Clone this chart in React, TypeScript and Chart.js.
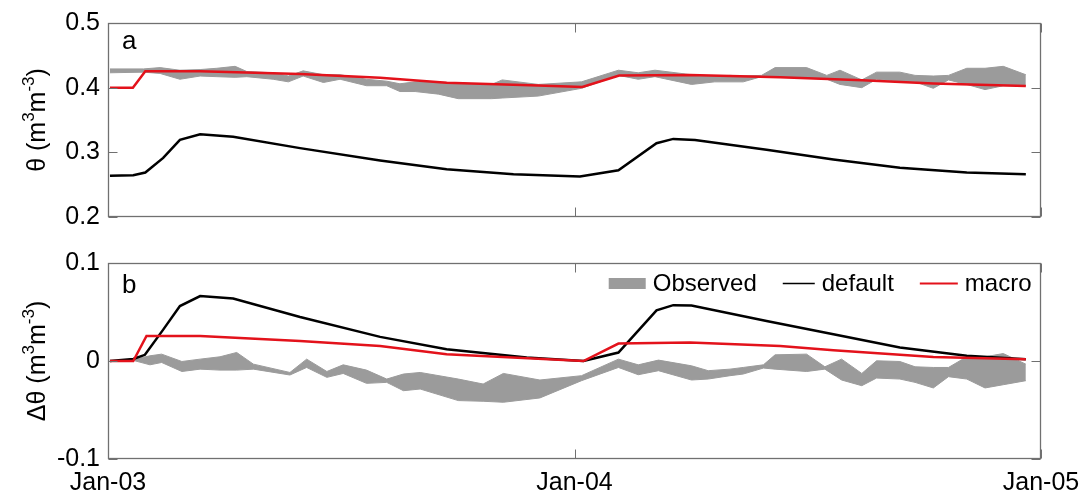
import React, { useEffect, useRef } from 'react';
import { Chart, registerables } from 'chart.js';

Chart.register(...registerables);

const FONT_FAMILY = '"Liberation Sans", Arial, Helvetica, sans-serif';
const GRAY = '#9b9b9b';
const RED = '#e3121b';
const BLACK = '#000000';
const FRAME = '#707070';
const TICK_LEN = 9;

// x axis: months since Jan-03
const X_TICK_MONTHS = [0, 12, 24];
const X_TICK_LABELS = ['Jan-03', 'Jan-04', 'Jan-05'];
const Y_TICKS_A = [0.2, 0.3, 0.4, 0.5];
const Y_TICKS_B = [-0.1, 0, 0.1];
const SERIES_LABELS = ['Observed', 'default', 'macro'];

// ---------- panel a : theta ----------
const OBS_A_MONTHS = [0.05, 0.91, 1.34, 1.85, 2.37, 2.8, 3.27, 3.57, 4.25, 4.64, 5.02, 5.54, 5.97, 6.65, 7.17, 7.51, 7.9, 8.5, 9.01, 9.87, 10.14, 11.07, 12.18, 13.13, 13.64, 14.07, 15.01, 15.61, 16.0, 16.34, 16.81, 17.16, 17.97, 18.49, 18.83, 19.39, 19.77, 20.37, 20.76, 21.23, 21.62, 22.09, 22.56, 23.03, 23.61];
const OBS_A_HIGH = [0.429, 0.429, 0.431, 0.427, 0.428, 0.43, 0.433, 0.425, 0.423, 0.418, 0.426, 0.42, 0.42, 0.413, 0.41, 0.406, 0.409, 0.409, 0.407, 0.405, 0.412, 0.405, 0.409, 0.427, 0.423, 0.427, 0.42, 0.418, 0.419, 0.418, 0.419, 0.431, 0.431, 0.419, 0.427, 0.412, 0.424, 0.424, 0.419, 0.418, 0.419, 0.43, 0.43, 0.433, 0.42];
const OBS_A_LOW = [0.423, 0.424, 0.422, 0.413, 0.418, 0.417, 0.416, 0.417, 0.413, 0.409, 0.418, 0.408, 0.413, 0.403, 0.403, 0.394, 0.394, 0.39, 0.383, 0.383, 0.384, 0.387, 0.399, 0.419, 0.413, 0.417, 0.405, 0.409, 0.409, 0.409, 0.417, 0.418, 0.415, 0.413, 0.405, 0.4, 0.413, 0.41, 0.409, 0.399, 0.412, 0.405, 0.397, 0.403, 0.403];

const DEFAULT_A_MONTHS = [0.05, 0.65, 0.96, 1.42, 1.85, 2.37, 3.22, 4.94, 7.0, 8.71, 10.43, 12.14, 13.13, 14.11, 14.54, 15.1, 16.94, 18.66, 20.37, 22.09, 23.61];
const DEFAULT_A = [0.2636, 0.2647, 0.2687, 0.2914, 0.3192, 0.3278, 0.3242, 0.3065, 0.2874, 0.2738, 0.2662, 0.2626, 0.2723, 0.3141, 0.3208, 0.3192, 0.304, 0.2889, 0.2762, 0.2687, 0.2662];

const MACRO_A_MONTHS = [0.05, 0.64, 0.96, 2.37, 4.94, 7.0, 8.71, 11.07, 12.2, 13.15, 14.97, 17.29, 19.4, 21.23, 23.61];
const MACRO_A = [0.4, 0.4, 0.4253, 0.4255, 0.421, 0.4154, 0.4075, 0.4035, 0.401, 0.4187, 0.4195, 0.416, 0.4115, 0.4065, 0.4025];

// ---------- panel b : delta theta ----------
const OBS_B_MONTHS = [0.69, 1.08, 1.38, 1.9, 2.37, 2.88, 3.31, 3.74, 4.68, 5.11, 5.63, 6.05, 6.65, 7.17, 7.6, 8.03, 9.01, 9.65, 10.17, 11.11, 12.18, 13.13, 13.64, 14.16, 15.01, 15.44, 16.0, 16.34, 16.86, 17.16, 17.97, 18.44, 18.87, 19.39, 19.77, 20.37, 20.76, 21.23, 21.62, 22.09, 22.56, 23.03, 23.61];
const OBS_B_HIGH = [0.0019, 0.0053, 0.007, -0.0005, 0.0019, 0.0043, 0.0087, -0.0032, -0.0117, 0.0019, -0.0107, -0.0039, -0.0093, -0.0184, -0.0133, -0.0117, -0.0184, -0.0235, -0.0127, -0.0194, -0.015, 0.0019, -0.0039, 0.0009, -0.0049, -0.0099, -0.0083, -0.0066, -0.0039, 0.0063, 0.007, -0.0059, 0.0019, -0.0127, 0.0002, -0.0005, -0.0059, -0.0066, -0.0066, 0.0043, 0.0043, 0.0076, -0.0032];
const OBS_B_LOW = [0.0002, -0.0039, -0.0015, -0.0107, -0.0083, -0.0093, -0.0093, -0.0083, -0.0143, -0.0066, -0.0167, -0.0127, -0.0228, -0.0218, -0.0303, -0.0286, -0.0404, -0.0411, -0.0421, -0.0377, -0.0201, -0.0066, -0.014, -0.0099, -0.0194, -0.0184, -0.015, -0.0133, -0.0072, -0.0083, -0.0107, -0.0083, -0.0194, -0.0252, -0.0174, -0.0184, -0.0218, -0.0275, -0.016, -0.0184, -0.0275, -0.0242, -0.0201];

const DEFAULT_B_MONTHS = [0.05, 0.65, 0.95, 1.42, 1.85, 2.37, 3.22, 4.94, 7.0, 8.71, 10.77, 12.23, 13.13, 14.11, 14.54, 15.01, 16.94, 18.66, 20.37, 22.09, 23.61];
const DEFAULT_B = [0, 0.002, 0.0063, 0.032, 0.0561, 0.0662, 0.0638, 0.0449, 0.0246, 0.0121, 0.0036, 0.0, 0.0086, 0.0516, 0.057, 0.0567, 0.0409, 0.0273, 0.0137, 0.0053, 0.0019];

const MACRO_B_MONTHS = [0.05, 0.65, 0.99, 2.37, 4.94, 7.0, 8.71, 12.23, 13.13, 14.97, 17.29, 18.66, 21.23, 23.61];
const MACRO_B = [0, 0, 0.0256, 0.0256, 0.0205, 0.0154, 0.007, 0, 0.0178, 0.0188, 0.0154, 0.011, 0.0042, 0.0019];

const pts = (xs: number[], ys: number[]) => xs.map((x, i) => ({ x, y: ys[i] }));
const font = (size: number) => `${size}px ${FONT_FAMILY}`;

type TitlePart = { t: string; sup?: boolean };

const decorPlugin = {
  id: 'decor',
  afterDraw(chart: any, _args: any, o: any) {
    const { ctx, chartArea: a, scales } = chart;
    const xs = scales.x;
    const ys = scales.y;
    const L = Math.round(a.left) + 0.5;
    const R = Math.round(a.right) - 0.5;
    const T = Math.round(a.top) + 0.5;
    const B = Math.round(a.bottom) - 0.5;
    ctx.save();
    // inward tick marks
    ctx.strokeStyle = FRAME;
    ctx.lineWidth = 1;
    ctx.beginPath();
    X_TICK_MONTHS.forEach((m) => {
      const px = Math.round(xs.getPixelForValue(m)) + 0.5;
      ctx.moveTo(px, B);
      ctx.lineTo(px, B - TICK_LEN);
      ctx.moveTo(px, T);
      ctx.lineTo(px, T + TICK_LEN);
    });
    (o.yTicks as number[]).forEach((v) => {
      const py = Math.round(ys.getPixelForValue(v)) + 0.5;
      ctx.moveTo(L, py);
      ctx.lineTo(L + TICK_LEN, py);
      ctx.moveTo(R, py);
      ctx.lineTo(R - TICK_LEN, py);
    });
    ctx.stroke();
    // frame
    ctx.lineWidth = 1.3;
    ctx.strokeRect(L, T, R - L, B - T);

    // panel letter
    ctx.fillStyle = '#000';
    ctx.font = font(26);
    ctx.textAlign = 'left';
    ctx.textBaseline = 'alphabetic';
    ctx.fillText(o.letter, a.left + 14, a.top + o.letterDy);

    // rotated y title with superscripts
    const parts: TitlePart[] = o.title;
    const MAIN = 25;
    const SUP = 17;
    ctx.save();
    ctx.translate(45, (a.top + a.bottom) / 2);
    ctx.rotate(-Math.PI / 2);
    let total = 0;
    parts.forEach((p) => {
      ctx.font = font(p.sup ? SUP : MAIN);
      total += ctx.measureText(p.t).width;
    });
    let cx = -total / 2;
    parts.forEach((p) => {
      ctx.font = font(p.sup ? SUP : MAIN);
      ctx.fillText(p.t, cx, p.sup ? -11 : 0);
      cx += ctx.measureText(p.t).width;
    });
    ctx.restore();

    // legend
    if (o.legend) {
      const items = [
        { kind: 'box', color: GRAY, sw: 37, lw: 0, label: SERIES_LABELS[0] },
        { kind: 'line', color: BLACK, sw: 32, lw: 1.5, label: SERIES_LABELS[1] },
        { kind: 'line', color: RED, sw: 38, lw: 2, label: SERIES_LABELS[2] },
      ];
      ctx.font = font(24);
      const GAP_IN = 7;
      const GAP_OUT = 26;
      let totalW = 0;
      items.forEach((it, i) => {
        totalW += it.sw + GAP_IN + ctx.measureText(it.label).width + (i > 0 ? GAP_OUT : 0);
      });
      let x = a.right - 9.5 - totalW;
      const yMid = a.top + 20.5;
      const yBase = a.top + 27.5;
      items.forEach((it) => {
        if (it.kind === 'box') {
          ctx.fillStyle = it.color;
          ctx.fillRect(x, yMid - 5.5, it.sw, 11);
        } else {
          ctx.strokeStyle = it.color;
          ctx.lineWidth = it.lw;
          ctx.beginPath();
          ctx.moveTo(x, yMid);
          ctx.lineTo(x + it.sw, yMid);
          ctx.stroke();
        }
        x += it.sw + GAP_IN;
        ctx.fillStyle = '#000';
        ctx.fillText(it.label, x, yBase);
        x += ctx.measureText(it.label).width + GAP_OUT;
      });
    }
    ctx.restore();
  },
};

type PanelSpec = {
  height: number;
  padding: { left: number; right: number; top: number; bottom: number };
  xAxisHeight: number;
  showXLabels: boolean;
  yMin: number;
  yMax: number;
  yTicks: number[];
  obsMonths: number[];
  obsHigh: number[];
  obsLow: number[];
  defMonths: number[];
  defVals: number[];
  macMonths: number[];
  macVals: number[];
  letter: string;
  letterDy: number;
  title: TitlePart[];
  legend: boolean;
};

function buildConfig(p: PanelSpec): any {
  const lineBase = { pointRadius: 0, pointHoverRadius: 0, tension: 0, fill: false };
  return {
    type: 'line',
    data: {
      datasets: [
        { ...lineBase, label: SERIES_LABELS[2], data: pts(p.macMonths, p.macVals), borderColor: RED, borderWidth: 2.5, order: 0 },
        { ...lineBase, label: SERIES_LABELS[1], data: pts(p.defMonths, p.defVals), borderColor: BLACK, borderWidth: 2.5, order: 1 },
        { ...lineBase, label: 'Observed upper', data: pts(p.obsMonths, p.obsHigh), borderColor: GRAY, borderWidth: 1, order: 2 },
        { ...lineBase, label: SERIES_LABELS[0], data: pts(p.obsMonths, p.obsLow), borderColor: GRAY, borderWidth: 1, backgroundColor: GRAY, fill: '-1', order: 3 },
      ],
    },
    options: {
      responsive: false,
      animation: false,
      events: [],
      layout: { padding: p.padding },
      scales: {
        x: {
          type: 'linear',
          min: 0,
          max: 24,
          afterFit: (s: any) => {
            s.height = p.xAxisHeight;
          },
          grid: { display: false, drawTicks: false },
          border: { display: false },
          ticks: {
            display: p.showXLabels,
            stepSize: 12,
            autoSkip: false,
            maxRotation: 0,
            padding: 9,
            color: '#000',
            font: { family: FONT_FAMILY, size: 25 },
            callback: (v: number) => {
              const i = X_TICK_MONTHS.indexOf(v);
              return i >= 0 ? X_TICK_LABELS[i] : '';
            },
          },
        },
        y: {
          type: 'linear',
          min: p.yMin,
          max: p.yMax,
          afterFit: (s: any) => {
            s.width = 108;
          },
          grid: { display: false, drawTicks: false },
          border: { display: false },
          ticks: {
            stepSize: 0.1,
            padding: 8,
            color: '#000',
            font: { family: FONT_FAMILY, size: 25 },
          },
        },
      },
      plugins: {
        legend: { display: false },
        tooltip: { enabled: false },
        decor: { yTicks: p.yTicks, letter: p.letter, letterDy: p.letterDy, title: p.title, legend: p.legend },
      },
    },
    plugins: [decorPlugin],
  };
}

const PANEL_A: PanelSpec = {
  height: 240,
  padding: { left: 0, right: 48, top: 19, bottom: 23 },
  xAxisHeight: 0,
  showXLabels: false,
  yMin: 0.2,
  yMax: 0.5,
  yTicks: Y_TICKS_A,
  obsMonths: OBS_A_MONTHS,
  obsHigh: OBS_A_HIGH,
  obsLow: OBS_A_LOW,
  defMonths: DEFAULT_A_MONTHS,
  defVals: DEFAULT_A,
  macMonths: MACRO_A_MONTHS,
  macVals: MACRO_A,
  letter: 'a',
  letterDy: 26,
  title: [{ t: 'θ (m' }, { t: '3', sup: true }, { t: 'm' }, { t: '-3', sup: true }, { t: ')' }],
  legend: false,
};

const PANEL_B: PanelSpec = {
  height: 257,
  padding: { left: 0, right: 48, top: 22, bottom: 0 },
  xAxisHeight: 38,
  showXLabels: true,
  yMin: -0.1,
  yMax: 0.1,
  yTicks: Y_TICKS_B,
  obsMonths: OBS_B_MONTHS,
  obsHigh: OBS_B_HIGH,
  obsLow: OBS_B_LOW,
  defMonths: DEFAULT_B_MONTHS,
  defVals: DEFAULT_B,
  macMonths: MACRO_B_MONTHS,
  macVals: MACRO_B,
  letter: 'b',
  letterDy: 30,
  title: [{ t: 'Δθ (m' }, { t: '3', sup: true }, { t: 'm' }, { t: '-3', sup: true }, { t: ')' }],
  legend: true,
};

function Panel({ spec, top }: { spec: PanelSpec; top: number }) {
  const ref = useRef<HTMLCanvasElement>(null);
  useEffect(() => {
    const chart = new Chart(ref.current as HTMLCanvasElement, buildConfig(spec));
    return () => chart.destroy();
  }, [spec]);
  return (
    <canvas
      ref={ref}
      width={1089}
      height={spec.height}
      style={{ position: 'absolute', left: 0, top, display: 'block' }}
    />
  );
}

export default function App() {
  return (
    <div style={{ position: 'absolute', left: 0, top: 0, width: 1089, height: 497, background: '#fff', overflow: 'hidden' }}>
      <Panel spec={PANEL_A} top={0} />
      <Panel spec={PANEL_B} top={240} />
    </div>
  );
}
